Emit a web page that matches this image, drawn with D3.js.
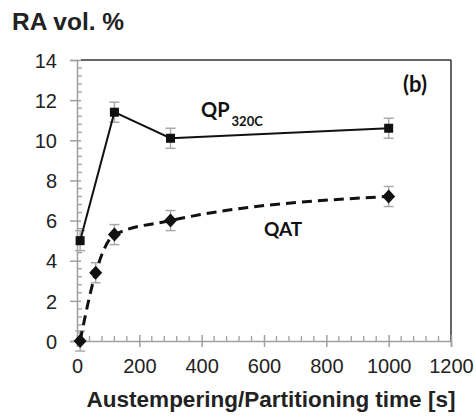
<!DOCTYPE html>
<html><head><meta charset="utf-8">
<script src="https://cdn.jsdelivr.net/npm/d3@7"></script>
<style>body{margin:0;background:#fff}svg{display:block}</style>
</head><body>
<svg id="c" width="476" height="417"></svg>
<script>
const timesQP = [10, 120, 300, 1000];
const valuesQP = [5.0, 11.4, 10.1, 10.6];
const errQP = [0.5, 0.5, 0.5, 0.5];
const timesQAT = [10, 60, 120, 300, 1000];
const valuesQAT = [0, 3.4, 5.3, 6.0, 7.2];
const errQAT = [0.5, 0.5, 0.5, 0.5, 0.5];
const xTicks = [0, 200, 400, 600, 800, 1000, 1200];
const yTicks = [0, 2, 4, 6, 8, 10, 12, 14];

const svg = d3.select('#c');
const x = d3.scaleLinear().domain([0, 1200]).range([77, 451]);
const y = d3.scaleLinear().domain([0, 14]).range([341, 60]);
const axisCol = '#a0a0a0';
const font = "'Liberation Sans', Arial, sans-serif";

// frame top/right
svg.append('line').attr('x1', x(0) + 4).attr('x2', x(1200)).attr('y1', y(14)).attr('y2', y(14))
  .attr('stroke', '#333').attr('stroke-width', 1.5);
svg.append('line').attr('x1', x(1200)).attr('x2', x(1200)).attr('y1', y(14)).attr('y2', y(0))
  .attr('stroke', '#333').attr('stroke-width', 1.5);

// minor ticks
const yMinor = d3.range(0, 14.001, 0.4).filter(v => Math.abs(v / 2 - Math.round(v / 2)) > 1e-6);
svg.append('g').selectAll('line').data(yMinor).join('line')
  .attr('x1', x(0)).attr('x2', x(0) + 5).attr('y1', d => y(d)).attr('y2', d => y(d))
  .attr('stroke', axisCol).attr('stroke-width', 1.3);
const xMinor = d3.range(0, 1200.001, 40).filter(v => v % 200 !== 0);
svg.append('g').selectAll('line').data(xMinor).join('line')
  .attr('x1', d => x(d)).attr('x2', d => x(d)).attr('y1', y(0)).attr('y2', y(0) - 5)
  .attr('stroke', axisCol).attr('stroke-width', 1.3);

// axes
const yAxis = d3.axisLeft(y).tickValues(yTicks).tickSize(7).tickPadding(13).tickFormat(d3.format('d'));
const gy = svg.append('g').attr('transform', `translate(${x(0)},0)`).call(yAxis);
const xAxis = d3.axisBottom(x).tickValues(xTicks).tickSize(6).tickPadding(12).tickFormat(d3.format('d'));
const gx = svg.append('g').attr('transform', `translate(0,${y(0)})`).call(xAxis);
[gx, gy].forEach(g => {
  g.select('.domain').attr('stroke', axisCol).attr('stroke-width', 1.5);
  g.selectAll('.tick line').attr('stroke', axisCol).attr('stroke-width', 1.5);
  g.selectAll('.tick text').attr('fill', '#222').style('font-family', font).style('font-size', '20px');
});
gy.selectAll('.tick line').attr('x2', -7).attr('x1', 4);
gx.selectAll('.tick line').attr('y1', -6);
gy.selectAll('.tick text').attr('dy', '0.36em');

// error bars
function errBars(times, vals, errs) {
  const g = svg.append('g').attr('stroke', '#aaa').attr('stroke-width', 1.5);
  times.forEach((t, i) => {
    const cx = x(t), y1 = y(vals[i] - errs[i]), y2 = y(vals[i] + errs[i]);
    g.append('line').attr('x1', cx).attr('x2', cx).attr('y1', y1).attr('y2', y2);
    g.append('line').attr('x1', cx - 5).attr('x2', cx + 5).attr('y1', y1).attr('y2', y1);
    g.append('line').attr('x1', cx - 5).attr('x2', cx + 5).attr('y1', y2).attr('y2', y2);
  });
}
errBars(timesQP, valuesQP, errQP);
errBars(timesQAT, valuesQAT, errQAT);

// lines
const qp = timesQP.map((t, i) => [t, valuesQP[i]]);
const qat = timesQAT.map((t, i) => [t, valuesQAT[i]]);
svg.append('path').datum(qp)
  .attr('d', d3.line().x(d => x(d[0])).y(d => y(d[1])))
  .attr('fill', 'none').attr('stroke', '#111').attr('stroke-width', 2);
svg.append('path').datum(qat)
  .attr('d', d3.line().curve(d3.curveMonotoneX).x(d => x(d[0])).y(d => y(d[1])))
  .attr('fill', 'none').attr('stroke', '#111').attr('stroke-width', 3).attr('stroke-dasharray', '10,6');

// markers
svg.append('g').selectAll('rect').data(qp).join('rect')
  .attr('x', d => x(d[0]) - 4.5).attr('y', d => y(d[1]) - 4.5).attr('width', 9).attr('height', 9)
  .attr('fill', '#111');
svg.append('g').selectAll('path').data(qat).join('path')
  .attr('transform', d => `translate(${x(d[0])},${y(d[1])})`)
  .attr('d', 'M0,-7L6.5,0L0,7L-6.5,0Z').attr('fill', '#111');

// labels
svg.append('text').attr('x', 12).attr('y', 30).text('RA vol. %')
  .style('font-family', font).style('font-weight', 'bold').style('font-size', '24.5px').attr('fill', '#222');
svg.append('text').attr('x', 271).attr('y', 407).attr('text-anchor', 'middle')
  .text('Austempering/Partitioning time [s]')
  .style('font-family', font).style('font-weight', 'bold').style('font-size', '22.5px').attr('fill', '#222');

const ann = "Lato, 'Open Sans', sans-serif";
svg.append('text').attr('x', 403).attr('y', 92).text('(b)')
  .style('font-family', ann).style('font-weight', 'bold').style('font-size', '22px').attr('fill', '#111');
const qpLab = svg.append('text').attr('x', 201).attr('y', 117)
  .style('font-family', ann).style('font-weight', 'bold').style('font-size', '20px').attr('fill', '#111');
qpLab.append('tspan').text('QP');
qpLab.append('tspan').attr('dy', 9).attr('dx', 2).style('font-size', '13px').text('320C');
svg.append('text').attr('x', 264).attr('y', 236).text('QAT')
  .style('font-family', ann).style('font-weight', 'bold').style('font-size', '19px').attr('fill', '#111');
</script>
</body></html>
